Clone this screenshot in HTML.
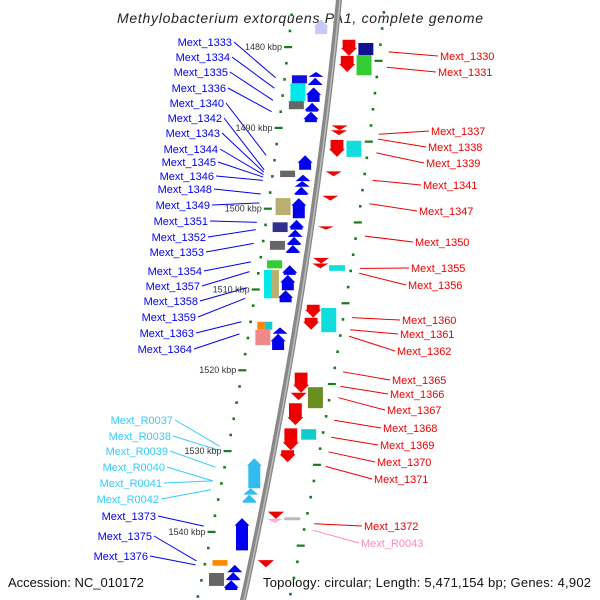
<!DOCTYPE html>
<html><head><meta charset="utf-8"><style>
html,body{margin:0;padding:0;background:#fff}
svg{display:block;font-family:"Liberation Sans",sans-serif}
</style></head><body>
<svg id="map" width="600" height="600" viewBox="0 0 600 600" xmlns="http://www.w3.org/2000/svg">
<text x="300" y="23" text-anchor="middle" font-style="italic" font-size="14" fill="#222" textLength="366">Methylobacterium extorquens PA1, complete genome</text>
<text x="8" y="587" font-size="13" fill="#111">Accession: NC_010172</text>
<text x="591" y="587" text-anchor="end" font-size="13" fill="#111" textLength="328">Topology: circular; Length: 5,471,154 bp; Genes: 4,902</text>
<g id="dots"></g><g id="links"></g><g id="backbone"></g><g id="genes"></g><g id="labels"></g>
</svg>
<script>
// ---- data (kbp) ----
const tickKbp = [1480,1490,1500,1510,1520,1530,1540];
const tickLabels = ["1480 kbp","1490 kbp","1500 kbp","1510 kbp","1520 kbp","1530 kbp","1540 kbp"];
// minus-strand arrows: [start, end, color]
const minusArrows = [
 [1476.6,1478.4,"#c8c8f4"],
 [1483.1,1483.7,"#0000ee"],[1483.8,1484.7,"#0000ee"],[1485.0,1486.8,"#0000ee"],[1486.9,1488.0,"#0000ee"],[1488.0,1489.3,"#0000ee"],
 [1493.4,1495.2,"#0000ee"],[1495.8,1496.6,"#0000ee"],[1496.6,1497.3,"#0000ee"],[1497.3,1498.3,"#0000ee"],
 [1498.7,1501.2,"#0000ee"],[1501.4,1502.6,"#0000ee"],[1502.6,1503.5,"#0000ee"],[1503.5,1504.5,"#0000ee"],[1504.5,1505.5,"#0000ee"],
 [1507.0,1508.2,"#0000ee"],[1508.2,1510.1,"#0000ee"],[1510.1,1511.6,"#0000ee"],
 [1514.7,1515.5,"#0000ee"],[1515.5,1517.5,"#0000ee"],
 [1530.9,1534.6,"#33bbee"],[1534.6,1535.4,"#33bbee"],[1535.4,1536.4,"#33bbee"],
 [1538.3,1542.3,"#0000ee"],
 [1544.1,1545.0,"#0000ee"],[1545.0,1546.0,"#0000ee"],[1546.0,1547.2,"#0000ee"]
];
// minus-strand boxes: [start, end, color, subLane(0 full,1 left,2 right)]
const minusBoxes = [
 [1483.5,1484.5,"#1010e0",0],[1484.5,1486.7,"#00e8e8",0],[1486.7,1487.7,"#666666",0],
 [1495.3,1496.1,"#666666",0],[1498.7,1500.8,"#b8b070",0],[1501.7,1502.9,"#303090",0],
 [1504.0,1505.1,"#666666",0],[1506.4,1507.4,"#33cc33",0],[1507.6,1511.1,"#00e8e8",1],[1507.6,1511.1,"#b8b070",2],
 [1514.0,1515.0,"#ff8800",1],[1514.0,1515.0,"#11cccc",2],[1515.0,1516.9,"#f08888",0],
 [1543.5,1544.2,"#ff8800",0],[1545.1,1546.7,"#666666",0]
];
const plusArrows = [
 [1479.1,1481.1,"#ee0000"],[1481.1,1483.1,"#ee0000"],[1489.7,1490.3,"#ee0000"],[1490.3,1490.9,"#ee0000"],
 [1491.5,1493.6,"#ee0000"],[1495.4,1496.0,"#ee0000"],[1498.4,1499.0,"#ee0000"],[1502.2,1502.6,"#ee0000"],
 [1506.1,1506.8,"#ee0000"],[1506.8,1507.4,"#ee0000"],[1511.9,1513.5,"#ee0000"],[1513.5,1515.0,"#ee0000"],
 [1520.3,1522.8,"#ee0000"],[1522.8,1523.7,"#ee0000"],[1524.1,1526.8,"#ee0000"],[1527.2,1529.9,"#ee0000"],
 [1529.9,1531.4,"#ee0000"],[1537.5,1538.4,"#ee0000"],[1538.4,1538.9,"#ffaadd"],[1543.5,1544.4,"#ee0000"]
];
const plusBoxes = [
 [1479.5,1481.0,"#101090",0],[1481.0,1483.5,"#33cc33",0],[1491.6,1493.6,"#11dddd",0],
 [1507.0,1507.7,"#11dddd",3],[1512.3,1515.3,"#11dddd",0],[1522.1,1524.7,"#6b8e23",0],
 [1527.3,1528.6,"#11cccc",0],[1538.2,1538.5,"#bbbbbb",3]
];
const leftNames = ["Mext_1333","Mext_1334","Mext_1335","Mext_1336","Mext_1340","Mext_1342","Mext_1343","Mext_1344","Mext_1345","Mext_1346","Mext_1348","Mext_1349","Mext_1351","Mext_1352","Mext_1353","Mext_1354","Mext_1357","Mext_1358","Mext_1359","Mext_1363","Mext_1364","Mext_R0037","Mext_R0038","Mext_R0039","Mext_R0040","Mext_R0041","Mext_R0042","Mext_1373","Mext_1375","Mext_1376"];
const leftTargets = [1483.8,1485.1,1486.6,1488.0,1493.4,1495.2,1495.5,1495.8,1496.1,1496.5,1498.2,1499.3,1501.7,1502.6,1504.3,1506.6,1507.8,1509.8,1511.1,1514.0,1515.5,1529.4,1529.9,1532.0,1533.7,1533.7,1534.8,1539.3,1543.6,1544.1];
const leftLabelY = [42,57,72,88,103,118,133,149,162,176,189,205,221,237,252,271,286,301,317,333,349,420,436,451,467,483,499,516,536,556];
const leftLabelEnd = [232,230,228,226,224,222,220,218,216,214,212,210,208,206,204,202,200,198,196,194,192,173,171,168,165,162,159,156,152,148];
const rightNames = ["Mext_1330","Mext_1331","Mext_1337","Mext_1338","Mext_1339","Mext_1341","Mext_1347","Mext_1350","Mext_1355","Mext_1356","Mext_1360","Mext_1361","Mext_1362","Mext_1365","Mext_1366","Mext_1367","Mext_1368","Mext_1369","Mext_1370","Mext_1371","Mext_1372","Mext_R0043"];
const rightTargets = [1480.6,1482.5,1490.8,1491.4,1493.1,1496.5,1499.4,1503.4,1507.4,1508.0,1513.5,1515.0,1515.8,1520.2,1522.0,1523.4,1526.2,1528.3,1530.1,1531.9,1539.0,1539.8];
const rightLabelY = [56,72,131,147,163,185,211,242,268,285,320,334,351,380,394,410,428,445,462,479,526,543];
const rightLabelStart = [440,438,431,428,426,423,419,415,411,408,402,400,397,392,390,387,383,380,377,374,364,361];

// ---- scales ----
const Y = k => 47 + (k - 1480) * 8.08;
const BX = y => 339 - 0.1 * y - 0.0001 * y * y;
const NS = "http://www.w3.org/2000/svg";
function mk(tag, attrs, parent) {
  const e = document.createElementNS(NS, tag);
  for (const a in attrs) e.setAttribute(a, attrs[a]);
  parent.appendChild(e); return e;
}
const gDots = document.getElementById('dots'), gLinks = document.getElementById('links'),
      gBack = document.getElementById('backbone'), gGenes = document.getElementById('genes'),
      gLab = document.getElementById('labels');

// backbone
let d = "";
for (let y = -5; y <= 605; y += 5) d += (y === -5 ? "M" : "L") + BX(y).toFixed(1) + " " + y;
let bb = mk('path', {d: d, stroke: "#888", "stroke-width": 6, fill: "none"}, gBack);


let bh = mk('path', {d: d, stroke: "#bbb", "stroke-width": 1.5, fill: "none", transform: "translate(1,0)"}, gBack);



// scale dots
function dotRow(startK, off, major, nameBase) {
  for (let i = 0; i < 45; i++) {
    const k = startK + 2 * i, y = Y(k);
    if (y < -3 || y > 603) continue;
    const x = BX(y) + off;
    const isMajor = (i % 5) === major;
    const r = isMajor ? mk('rect', {x: x - 4, y: y - 1, width: 8, height: 2.2, fill: "#1b7a1b"}, gDots)
                      : mk('rect', {x: x - 1.2, y: y - 1.2, width: 2.6, height: 2.6, fill: "#1b7a1b"}, gDots);
    
    
  }
}
dotRow(1470, -46, 0, 'left-scale-dot');
dotRow(1471.7, 46, 0, 'right-scale-dot');
tickKbp.forEach((k, i) => {
  const y = Y(k);
  const t = mk('text', {x: BX(y) - 52, y: y + 3, "text-anchor": "end", "font-size": 9, fill: "#333"}, gLab);
  t.textContent = tickLabels[i];
  
  
});

// genes
function arrow(k1, k2, off, w, color, up, name) {
  const y1 = Y(k1), y2 = Y(k2), h = y2 - y1, cx = BX((y1 + y2) / 2) + off;
  const hl = Math.min(h, w * 0.5), sw = w * 0.4;
  let pts;
  if (up) pts = [[cx, y1], [cx + w / 2, y1 + hl], [cx + sw, y1 + hl], [cx + sw, y2], [cx - sw, y2], [cx - sw, y1 + hl], [cx - w / 2, y1 + hl]];
  else pts = [[cx - sw, y1], [cx + sw, y1], [cx + sw, y2 - hl], [cx + w / 2, y2 - hl], [cx, y2], [cx - w / 2, y2 - hl], [cx - sw, y2 - hl]];
  if (h < w * 0.5) pts = up ? [[cx, y1], [cx + w / 2, y2], [cx - w / 2, y2]] : [[cx - w / 2, y1], [cx + w / 2, y1], [cx, y2]];
  const p = mk('polygon', {points: pts.map(q => q.map(v => v.toFixed(1)).join(",")).join(" "), fill: color}, gGenes);
  
  
}
function box(k1, k2, off, w, color, sub, name) {
  const y1 = Y(k1), y2 = Y(k2), cx = BX((y1 + y2) / 2) + off;
  let x = cx - w / 2, ww = w, hh = y2 - y1, yy = y1;
  if (sub === 1) ww = w / 2;
  if (sub === 2) { x = cx; ww = w / 2; }
  if (sub === 3) { x = cx - 8; ww = 16; hh = Math.max(hh, 3); }
  const r = mk('rect', {x: x, y: yy, width: ww, height: Math.max(hh, 2), fill: color}, gGenes);
  
  
}
minusArrows.forEach(g => arrow(g[0], g[1], -15, 15, g[2], true, 'minus-gene-arrow'));
minusBoxes.forEach(g => box(g[0], g[1], -31, 15, g[2], g[3], 'minus-feature-box'));
plusArrows.forEach(g => arrow(g[0], g[1], 15, 16, g[2], false, 'plus-gene-arrow'));
plusBoxes.forEach(g => box(g[0], g[1], 32, 15, g[2], g[3], 'plus-feature-box'));

// labels
leftNames.forEach((n, i) => {
  const ty = Y(leftTargets[i]), tx = BX(ty) - 55;
  const col = n.indexOf("R00") >= 0 ? "#33ccff" : "#0000ee";
  const l = mk('line', {x1: leftLabelEnd[i] + 2, y1: leftLabelY[i], x2: tx, y2: ty, stroke: col, "stroke-width": 1}, gLinks);
  
  
  const t = mk('text', {x: leftLabelEnd[i], y: leftLabelY[i] + 4, "text-anchor": "end", "font-size": 11, fill: col}, gLab);
  t.textContent = n;
  
  
});
rightNames.forEach((n, i) => {
  const ty = Y(rightTargets[i]), tx = BX(ty) + 55;
  const col = n.indexOf("R00") >= 0 ? "#ff88bb" : "#ee0000";
  const l = mk('line', {x1: tx, y1: ty, x2: rightLabelStart[i] - 2, y2: rightLabelY[i], stroke: col, "stroke-width": 1}, gLinks);
  
  
  const t = mk('text', {x: rightLabelStart[i], y: rightLabelY[i] + 4, "font-size": 11, fill: col}, gLab);
  t.textContent = n;
  
  
});
</script>
</body></html>
